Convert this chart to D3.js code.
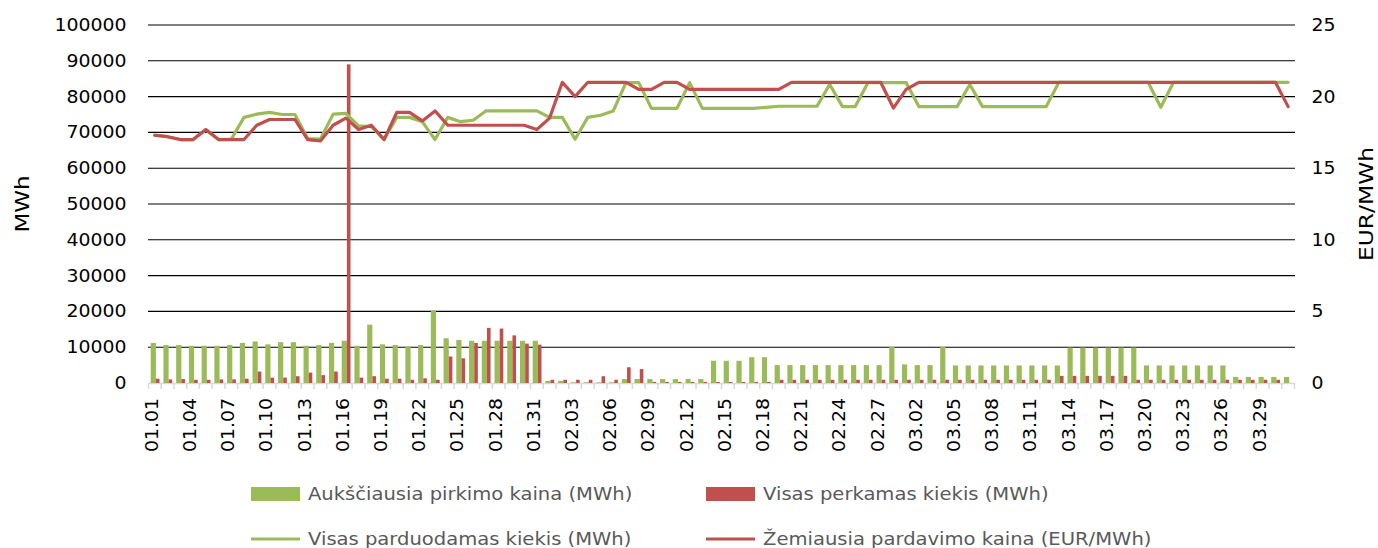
<!DOCTYPE html>
<html><head><meta charset="utf-8">
<script src="https://cdn.jsdelivr.net/npm/d3@7"></script>
<style>
html,body{margin:0;padding:0;background:#fff;}
svg text{font-family:"DejaVu Sans",sans-serif;}
</style></head>
<body><svg id="c" width="1378" height="548"></svg>
<script>
const dates = ["01.01","01.02","01.03","01.04","01.05","01.06","01.07","01.08","01.09","01.10","01.11","01.12","01.13","01.14","01.15","01.16","01.17","01.18","01.19","01.20","01.21","01.22","01.23","01.24","01.25","01.26","01.27","01.28","01.29","01.30","01.31",
"02.01","02.02","02.03","02.04","02.05","02.06","02.07","02.08","02.09","02.10","02.11","02.12","02.13","02.14","02.15","02.16","02.17","02.18","02.19","02.20","02.21","02.22","02.23","02.24","02.25","02.26","02.27","02.28",
"03.01","03.02","03.03","03.04","03.05","03.06","03.07","03.08","03.09","03.10","03.11","03.12","03.13","03.14","03.15","03.16","03.17","03.18","03.19","03.20","03.21","03.22","03.23","03.24","03.25","03.26","03.27","03.28","03.29","03.30","03.31"];

// Aukščiausia pirkimo kaina (MWh) - green bars
const highestBuy = [11200,10600,10600,10400,10400,10400,10600,11200,11600,10800,11400,11400,10400,10600,11200,11800,10400,16300,10800,10600,10200,10600,20200,12500,12000,11800,11800,11800,11800,11800,11800,
600,600,200,200,200,200,1100,1100,1100,1100,1100,1100,1100,6200,6200,6200,7200,7200,5000,5000,5000,5000,5000,5000,5000,5000,5000,10100,
5200,5000,5000,10100,4900,4900,4900,4900,4900,4900,4900,4900,4900,9900,9900,9900,9900,9900,9900,4900,4900,4900,4900,4900,4900,4900,1700,1700,1700,1700,1700];

// Visas perkamas kiekis (MWh) - red bars
const totalBuy = [1200,1000,1100,900,900,1000,1000,1200,3200,1500,1500,1900,2900,2200,3200,89000,1500,1900,1200,1200,900,1300,900,7400,6900,11200,15400,15200,13300,11000,10700,
900,900,900,900,1900,900,4400,3900,300,300,300,300,300,300,300,300,300,300,900,900,900,900,900,900,900,900,900,900,
900,900,900,900,900,900,900,900,900,900,900,900,2000,2000,2000,2000,2000,2000,900,900,900,900,900,900,900,900,900,900,900,900];

// Visas parduodamas kiekis (MWh) - green line (left axis)
const totalSell = [69200,68800,68000,68000,70700,68000,68100,74200,75100,75600,75000,75000,68300,68100,75100,75300,71800,71600,68000,74200,74200,73000,68000,74200,73000,73400,76000,76000,76000,76000,76000,
74200,74200,68100,74200,74800,76000,83900,83900,76700,76700,76700,83900,76700,76700,76700,76700,76700,77000,77300,77300,77300,77300,83400,77200,77200,83900,83900,83900,
83900,77200,77200,77200,77200,83400,77200,77200,77200,77200,77200,77200,84000,84000,84000,84000,84000,84000,84000,84000,77000,84000,84000,84000,84000,84000,84000,84000,84000,84000,84000];

// Žemiausia pardavimo kaina (EUR/MWh) - red line (right axis)
const lowestSell = [17.3,17.2,17.0,17.0,17.7,17.0,17.0,17.0,18.0,18.4,18.4,18.4,17.0,16.9,18.0,18.5,17.7,18.0,17.0,18.9,18.9,18.3,19.0,18.0,18.0,18.0,18.0,18.0,18.0,18.0,17.7,
18.5,21.0,20.0,21.0,21.0,21.0,21.0,20.5,20.5,21.0,21.0,20.5,20.5,20.5,20.5,20.5,20.5,20.5,20.5,21.0,21.0,21.0,21.0,21.0,21.0,21.0,21.0,19.2,
20.5,21.0,21.0,21.0,21.0,21.0,21.0,21.0,21.0,21.0,21.0,21.0,21.0,21.0,21.0,21.0,21.0,21.0,21.0,21.0,21.0,21.0,21.0,21.0,21.0,21.0,21.0,21.0,21.0,21.0,19.3];

const leftTicks = [0,10000,20000,30000,40000,50000,60000,70000,80000,90000,100000];
const rightTicks = [0,5,10,15,20,25];
const xTickLabels = dates.filter((d,i)=>i%3===0);
const seriesNames = ["Aukščiausia pirkimo kaina (MWh)","Visas perkamas kiekis (MWh)","Visas parduodamas kiekis (MWh)","Žemiausia pardavimo kaina (EUR/MWh)"];

const GREEN="#9BBB59", RED="#C0504D";
const svg = d3.select("#c");
const L=148.5, R=1294.5, T=25, B=383;
const x = d3.scaleBand().domain(dates).range([L,R]);
const bw = x.bandwidth();
const yL = d3.scaleLinear().domain([0,100000]).range([B,T]);
const yR = d3.scaleLinear().domain([0,25]).range([B,T]);
const FS = 17;
const STR = 1.11;
function stretch(sel, f){
  sel.each(function(){
    const n = this.getComputedTextLength();
    d3.select(this).attr("textLength", n*f).attr("lengthAdjust","spacingAndGlyphs");
  });
}

// gridlines
svg.append("g").selectAll("line").data(leftTicks.filter(v=>v>0)).join("line")
  .attr("x1",L-0.5).attr("x2",R+0.5).attr("y1",d=>yL(d)).attr("y2",d=>yL(d))
  .attr("stroke","#000").attr("stroke-width",1.1);

// x axis line and ticks
svg.append("line").attr("x1",L-0.5).attr("x2",R+0.5).attr("y1",B+0.5).attr("y2",B+0.5).attr("stroke","#d9d9d9").attr("stroke-width",1.5);
const bounds = dates.map(d=>x(d)).concat([R]);
svg.append("g").selectAll("line").data(bounds).join("line")
  .attr("x1",d=>d).attr("x2",d=>d).attr("y1",B).attr("y2",B+6)
  .attr("stroke","#d9d9d9").attr("stroke-width",1.5);

// bars
svg.append("g").selectAll("rect").data(dates).join("rect")
  .attr("x",d=>x(d)+2.2).attr("width",5.2)
  .attr("y",(d,i)=>yL(highestBuy[i])).attr("height",(d,i)=>B-yL(highestBuy[i]))
  .attr("fill",GREEN);
svg.append("g").selectAll("rect").data(dates).join("rect")
  .attr("x",d=>x(d)+7.4).attr("width",3.6)
  .attr("y",(d,i)=>yL(totalBuy[i])).attr("height",(d,i)=>B-yL(totalBuy[i]))
  .attr("fill",RED);

// lines
const cx = d=>x(d)+bw/2;
svg.append("path").datum(dates).attr("fill","none").attr("stroke",GREEN).attr("stroke-width",3.2)
  .attr("stroke-linejoin","round").attr("stroke-linecap","round")
  .attr("d",d3.line().x(d=>cx(d)).y((d,i)=>yL(totalSell[i])));
svg.append("path").datum(dates).attr("fill","none").attr("stroke",RED).attr("stroke-width",3.2)
  .attr("stroke-linejoin","round").attr("stroke-linecap","round")
  .attr("d",d3.line().x(d=>cx(d)).y((d,i)=>yR(lowestSell[i])));

// left axis
const ga = svg.append("g").attr("transform",`translate(${L},0)`)
  .call(d3.axisLeft(yL).tickValues(leftTicks).tickFormat(d3.format("d")).tickSize(0).tickPadding(22));
ga.select(".domain").remove();
ga.selectAll("text").attr("font-size",FS).attr("font-family","DejaVu Sans").attr("fill","#000").call(stretch,STR);
// right axis
const gr = svg.append("g").attr("transform",`translate(${R},0)`)
  .call(d3.axisRight(yR).tickValues(rightTicks).tickFormat(d3.format("d")).tickSize(0).tickPadding(17));
gr.select(".domain").remove();
gr.selectAll("text").attr("font-size",FS).attr("font-family","DejaVu Sans").attr("fill","#000").call(stretch,STR);

// x labels
svg.append("g").selectAll("text").data(xTickLabels).join("text")
  .attr("transform",d=>`translate(${cx(d)-3},398) rotate(-90)`)
  .attr("text-anchor","end").attr("dy","0.35em")
  .attr("font-size",FS).attr("fill","#000").text(d=>d).call(stretch,STR);

// axis titles
svg.append("text").attr("transform",`translate(22,${(T+B)/2}) rotate(-90)`).attr("text-anchor","middle")
  .attr("dy","0.35em").attr("font-size",20).attr("fill","#000").text("MWh").call(stretch,1.15);
svg.append("text").attr("transform",`translate(1366,${(T+B)/2}) rotate(-90)`).attr("text-anchor","middle")
  .attr("dy","0.35em").attr("font-size",20).attr("fill","#000").text("EUR/MWh").call(stretch,1.17);

// legend
const leg = [
  {name:seriesNames[0],type:"rect",color:GREEN,x:251,y:494},
  {name:seriesNames[1],type:"rect",color:RED,x:706,y:494},
  {name:seriesNames[2],type:"line",color:GREEN,x:251,y:539},
  {name:seriesNames[3],type:"line",color:RED,x:706,y:539}
];
const lg = svg.append("g").selectAll("g").data(leg).join("g").attr("transform",d=>`translate(${d.x},${d.y})`);
lg.filter(d=>d.type==="rect").append("rect").attr("x",0).attr("y",-7).attr("width",49).attr("height",14).attr("fill",d=>d.color);
lg.filter(d=>d.type==="line").append("line").attr("x1",0).attr("x2",49).attr("y1",0).attr("y2",0).attr("stroke",d=>d.color).attr("stroke-width",3.2);
lg.append("text").attr("x",57).attr("dy","0.35em").attr("font-size",FS).attr("fill","#595959").text(d=>d.name).call(stretch,1.15);
</script></body></html>
